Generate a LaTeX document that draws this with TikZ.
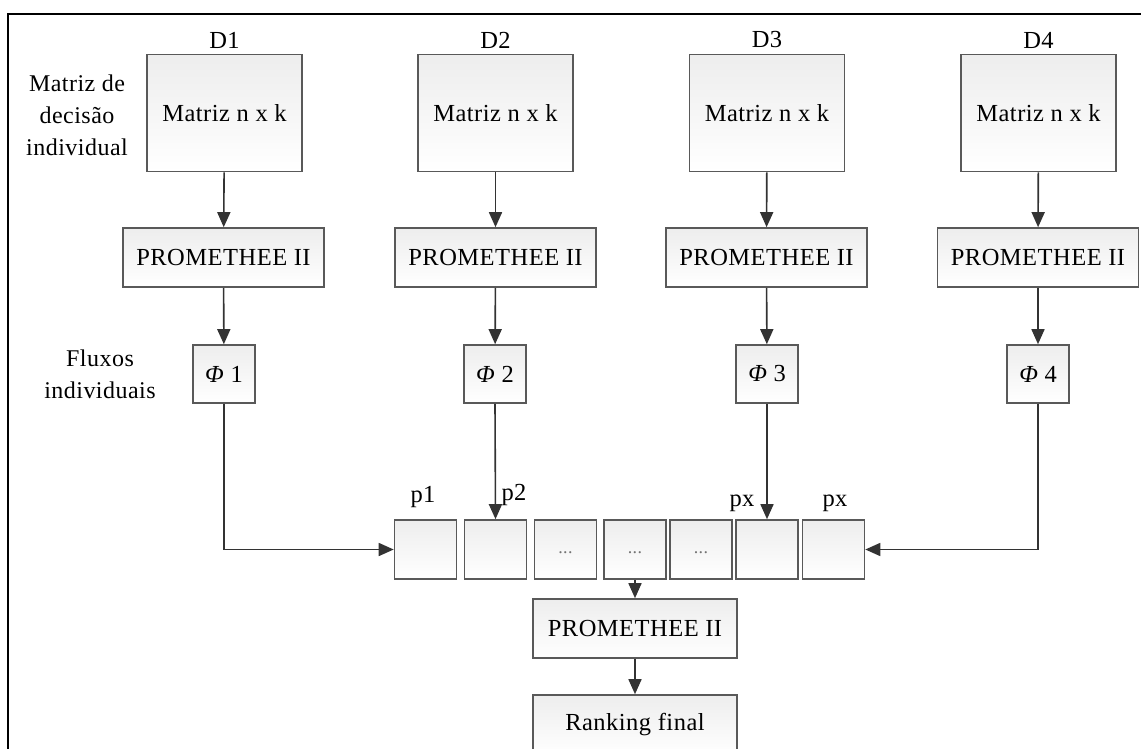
\documentclass[tikz,border=0pt]{standalone}
\usepackage{fontspec}
\setmainfont{Liberation Serif}[LetterSpace=2]
\usetikzlibrary{arrows.meta}
\begin{document}
\begin{tikzpicture}[x=1pt,y=-1pt,
  box/.style={draw=black!65, line width=1.6pt, top color=black!7, bottom color=white,
    inner sep=0pt, font=\fontsize{24.5}{28}\selectfont},
  matbox/.style={box, minimum width=155pt, minimum height=117pt},
  prombox/.style={box, minimum width=201pt, minimum height=59pt},
  phibox/.style={box, minimum width=62pt, minimum height=58pt},
  cell/.style={box, minimum width=62pt, minimum height=59pt},
  lbl/.style={font=\fontsize{24.5}{28}\selectfont, inner sep=0pt},
  side/.style={font=\fontsize{24}{32}\selectfont, align=center, inner sep=0pt},
  dots/.style={text=black!55, font=\fontsize{18}{18}\selectfont},
  arr/.style={draw=black!80, line width=1.6pt, -{Triangle[width=13pt,length=15pt]}}
]
\useasboundingbox (0,0) rectangle (1141,749);
% frame
\draw[line width=2pt] (8,752) -- (8,14) -- (1145,14);

% matrices
\node[matbox] (m1) at (224.5,113) {Matriz n x k};
\node[matbox] (m2) at (495.5,113) {Matriz n x k};
\node[matbox] (m3) at (767,113) {Matriz n x k};
\node[matbox] (m4) at (1038.5,113) {Matriz n x k};
\node[lbl] (d1) at (224.5,40) {D1};
\node[lbl] (d2) at (495.5,40) {D2};
\node[lbl] (d3) at (767,40) {D3};
\node[lbl] (d4) at (1038.5,40) {D4};
\node[side] (sm) at (77,115) {Matriz de\\decisão\\individual};

% PROMETHEE
\node[prombox] (pr1) at (223.5,257.5) {PROMETHEE II};
\node[prombox] (pr2) at (495.5,257.5) {PROMETHEE II};
\node[prombox] (pr3) at (766.5,257.5) {PROMETHEE II};
\node[prombox] (pr4) at (1038,257.5) {PROMETHEE II};

% flows
\node[phibox] (f1) at (224,374) {{\itshape Φ} 1};
\node[phibox] (f2) at (495,374) {{\itshape Φ} 2};
\node[phibox] (f3) at (767,374) {{\itshape Φ} 3};
\node[phibox] (f4) at (1038,374) {{\itshape Φ} 4};
\node[side] (sf) at (100,374) {Fluxos\\individuais};

% cells
\node[cell] (c1) at (425.5,549.5) {};
\node[cell] (c2) at (495.5,549.5) {};
\node[cell] (c3) at (565.5,549.5) {};
\node[cell] (c4) at (635,549.5) {};
\node[cell] (c5) at (701,549.5) {};
\node[cell] (c6) at (767,549.5) {};
\node[cell] (c7) at (833.5,549.5) {};
\node[dots] (e3) at (565.5,553) {...};
\node[dots] (e4) at (635,553) {...};
\node[dots] (e5) at (701,553) {...};
\node[lbl] (l1) at (423,497) {p1};
\node[lbl] (l2) at (514,495) {p2};
\node[lbl] (l3) at (742,503) {px};
\node[lbl] (l4) at (835,503) {px};

% final
\node[box, minimum width=204pt, minimum height=59pt] (pf) at (635,628.5) {PROMETHEE II};
\node[box, minimum width=204pt, minimum height=60pt] (rk) at (635,725) {Ranking final};

% connectors
\foreach \i in {1,2,3,4}{
  \draw[arr] (m\i) -- (pr\i);
  \draw[arr] (pr\i) -- (f\i);
}
\draw[arr] (f1.south) |- (c1.west);
\draw[arr] (f4.south) |- (c7.east);
\draw[arr] (f2.south) -- (c2.north);
\draw[arr] (f3.south) -- (c6.north);
\draw[arr] (c4.south) -- (pf.north);
\draw[arr] (pf.south) -- (rk.north);
\end{tikzpicture}
\end{document}
